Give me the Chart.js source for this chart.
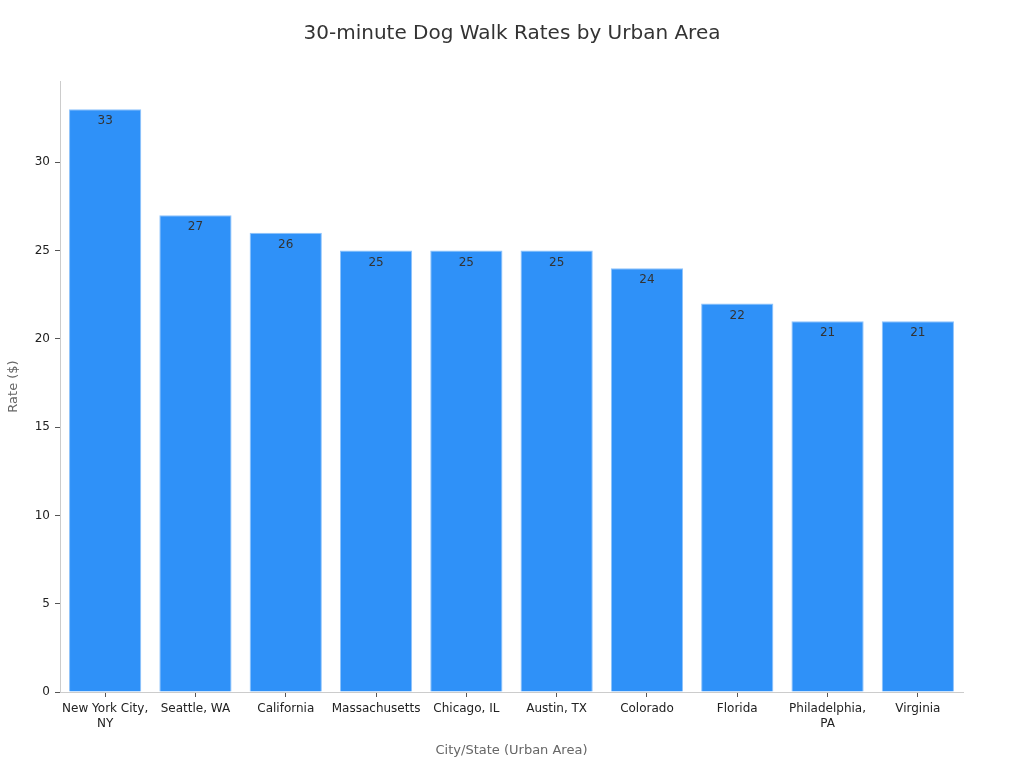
<!DOCTYPE html>
<html><head><meta charset="utf-8">
<script src="https://cdn.jsdelivr.net/npm/chart.js@4.4.0/dist/chart.umd.min.js"></script>
<style>html,body{margin:0;padding:0;background:#fff}#wrap{width:1024px;height:768px}</style>
</head><body><div id="wrap"><canvas id="c" width="1024" height="768"></canvas></div>
<script>
const chartTitle = '30-minute Dog Walk Rates by Urban Area';
const categories = [["New York City,","NY"],"Seattle, WA","California","Massachusetts","Chicago, IL","Austin, TX","Colorado","Florida",["Philadelphia,","PA"],"Virginia"];
const rates = [33,27,26,25,25,25,24,22,21,21];
const yTicks = [0,5,10,15,20,25,30];

const labelPlugin = {
  id:'vals',
  afterDatasetsDraw(chart){
    const ctx = chart.ctx;
    const meta = chart.getDatasetMeta(0);
    ctx.save();
    ctx.font = '12px "DejaVu Sans"';
    ctx.fillStyle = '#333';
    ctx.textAlign = 'center';
    ctx.textBaseline = 'middle';
    meta.data.forEach((bar,i)=>{
      ctx.fillText(String(rates[i]), bar.x, bar.y + 12);
    });
    ctx.restore();
  },
  afterDraw(chart){
    const ctx = chart.ctx;
    ctx.save();
    ctx.font = '20px "DejaVu Sans"';
    ctx.fillStyle = '#333';
    ctx.textAlign = 'center';
    ctx.textBaseline = 'middle';
    ctx.fillText(chartTitle, chart.width/2, 34);
    ctx.restore();
  }
};

new Chart(document.getElementById('c'), {
  type:'bar',
  data:{labels:categories, datasets:[{data:rates, backgroundColor:'#2f91f8', borderColor:'#8ec3fb', borderWidth:1, barPercentage:0.8, categoryPercentage:1}]},
  options:{
    responsive:false, animation:false,
    layout:{padding:{left:0,right:61,top:81,bottom:0}},
    plugins:{
      legend:{display:false}, tooltip:{enabled:false}, title:{display:false}
    },
    scales:{
      x:{
        grid:{display:true, offset:false, drawOnChartArea:false, tickLength:5, color:'#555'},
        border:{color:'#ccc'},
        ticks:{color:'#222', font:{family:'DejaVu Sans', size:12}, maxRotation:0, autoSkip:false, padding:5},
        title:{display:true, text:'City/State (Urban Area)', color:'#666', font:{family:'DejaVu Sans', size:13}, padding:{top:4,bottom:10}},
        afterFit(s){ s.height = 76; }
      },
      y:{
        min:0, max:34.6,
        afterBuildTicks(s){ s.ticks = yTicks.map(v=>({value:v})); },
        grid:{display:true, drawOnChartArea:false, tickLength:5, color:'#555'},
        border:{color:'#ccc'},
        ticks:{color:'#222', font:{family:'DejaVu Sans', size:12}, padding:5},
        title:{display:true, text:'Rate ($)', color:'#666', font:{family:'DejaVu Sans', size:13}, padding:{top:6,bottom:0}},
        afterFit(s){ s.width = 60; }
      }
    }
  },
  plugins:[labelPlugin]
});
</script></body></html>
